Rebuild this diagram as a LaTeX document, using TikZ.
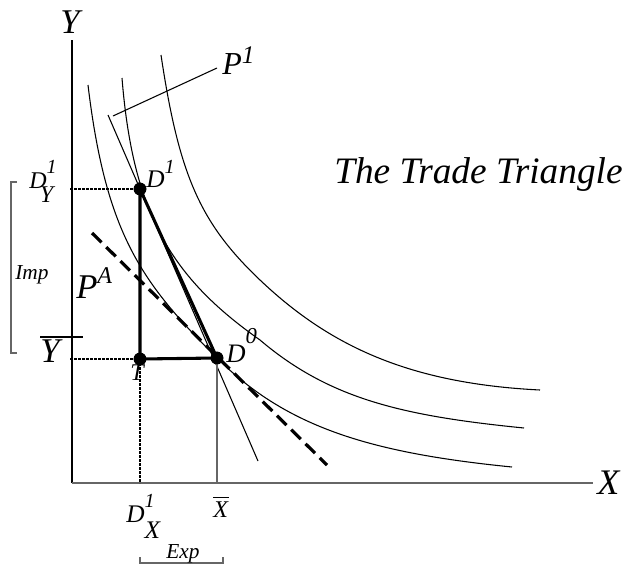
\documentclass[tikz,border=0pt]{standalone}
\usepackage{fontspec}
\setmainfont{Liberation Serif}
\newcommand{\myfs}[1]{\fontsize{#1}{#1}\selectfont}
\begin{document}
\begin{tikzpicture}[x=0.75pt,y=-0.75pt,
  thinline/.style={line width=0.8pt},
  greyline/.style={line width=0.9pt, black!60},
  thickline/.style={line width=2.3pt},
  dashline/.style={line width=2.4pt, dash pattern=on 10pt off 5pt},
  dotline/.style={line width=1.3pt, dash pattern=on 2pt off 1pt},
  dot/.style={circle, fill=black, inner sep=0pt, minimum size=9.5pt},
  lab/.style={anchor=base west, inner sep=0pt}
]
\path[use as bounding box] (0,0) rectangle (625,565);

% axes
\coordinate (O) at (72,483);
\coordinate (Ytop) at (72,40);
\coordinate (Xend) at (593,483);
\draw[thinline] (O) -- (Ytop);
\draw[greyline] (O) -- (Xend);

% indifference curves
\draw[thinline] (88,85) .. controls (106,235) and (142,283) .. (217,358)
                        .. controls (287,428) and (372,453) .. (512,467);
\draw[thinline] (122,78) .. controls (133,215) and (172,278) .. (260,340)
                         .. controls (330,399.5) and (404,416) .. (524,428);
\draw[thinline] (161,55) .. controls (179,175) and (200,223) .. (260,280)
                         .. controls (330,346.5) and (410,383.5) .. (540,390);

% points
\node[dot] (D1) at (140,189) {};
\node[dot] (T) at (140,359) {};
\node[dot] (D0) at (217,358) {};

% price line P1 and its label leader
\coordinate (Ps) at (108,115);
\coordinate (Pe) at (258,461);
\draw[thinline] (Ps) -- (Pe);
\coordinate (La) at (113,116);
\coordinate (Lb) at (217,68);
\draw[thinline] (La) -- (Lb);

% autarky price line (dashed)
\coordinate (As) at (92,233);
\coordinate (Ae) at (327,465);
\draw[dashline] (As) -- (Ae);

% dotted guides
\coordinate (yD1) at (70,189);
\coordinate (yT) at (70,359);
\coordinate (xT) at (140,483);
\coordinate (xD0) at (217,483);
\draw[dotline] (yD1) -- (D1.center);
\draw[dotline] (yT) -- (T.center);
\draw[dotline] (T.center) -- (xT);
\draw[greyline] (D0.center) -- (xD0);

% trade triangle
\draw[thickline] (D1.center) -- (T.center) -- (D0.center) -- cycle;
\node[dot] at (D1) {};
\node[dot] at (T) {};
\node[dot] at (D0) {};

% brackets
\draw[greyline] (17,182) -- (11,182) -- (11,353) -- (17,353);
\draw[greyline] (140,557) -- (140,563) -- (223,563) -- (223,557);

% Y bar overline
\draw[thinline] (40,337) -- (83,337);

% labels
\node[lab, font=\itshape\myfs{26}] (ylab) at (60,33) {Y};
\node[lab, font=\itshape\myfs{27}] (xlab) at (597,494) {X};
\node[lab, font=\itshape\myfs{24}] (p1lab) at (222,74) {P\raisebox{8pt}{\myfs{19}1}};
\node[lab, font=\itshape\myfs{28}] (title) at (334,183) {The Trade Triangle};
\node[lab, font=\itshape\myfs{19}] (d1lab) at (146,187) {D\raisebox{10pt}{\myfs{15}1}};
\node[lab, font=\itshape\myfs{18}] (dylab) at (29,188) {D\rlap{\raisebox{11pt}{\myfs{15}1}}\kern-5pt\raisebox{-11pt}{Y}};
\node[lab, font=\itshape\myfs{16}] (imp) at (15,279) {Imp};
\node[lab, font=\itshape\myfs{26}] (pa) at (76,298) {P\raisebox{11pt}{\myfs{18}A}};
\node[lab, font=\itshape\myfs{26}] (ybar) at (40,362) {Y};
\node[lab, font=\itshape\myfs{18}] (tlab) at (130,380) {T};
\node[lab, font=\itshape\myfs{20}] (d0lab) at (226,362) {D\raisebox{14pt}{\myfs{17}0}};
\node[lab, font=\itshape\myfs{19}] (dxlab) at (126,522) {D\rlap{\raisebox{11pt}{\myfs{15}1}}\raisebox{-12pt}{X}};
\node[lab, font=\itshape\myfs{18}] (xbar) at (213,517) {\rlap{\raisebox{14pt}{\rule{12pt}{0.9pt}}}X};
\node[lab, font=\itshape\myfs{16}] (exp) at (166,558) {Exp};
\end{tikzpicture}
\end{document}
